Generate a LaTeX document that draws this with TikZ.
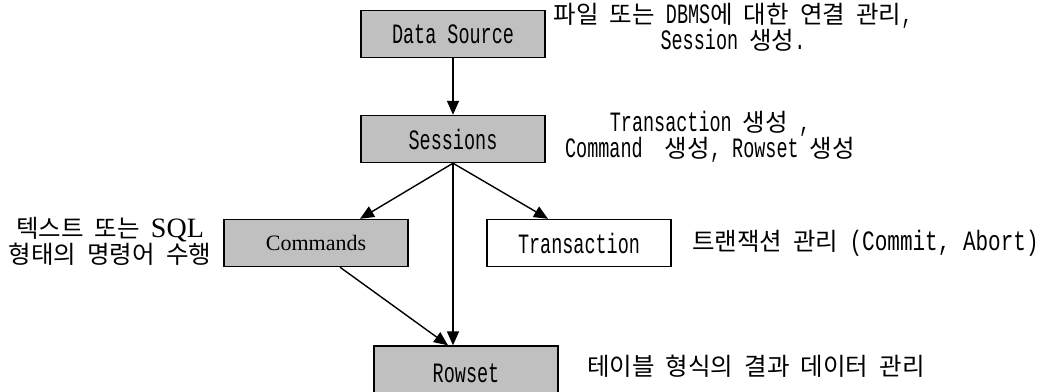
\documentclass[tikz,border=0pt]{standalone}
\usepackage{fontspec}
\setmainfont{Liberation Mono}[FakeStretch=0.66]
\newfontfamily\kr{Noto Sans CJK KR}[Scale=0.875]
\newfontfamily\tms{Liberation Serif}
\newfontfamily\widemono{Liberation Mono}[FakeStretch=0.75]
\usetikzlibrary{arrows.meta}
\newcommand\ko[1]{{\kr #1}}
\definecolor{boxgray}{RGB}{192,192,192}
\tikzset{
  box/.style={draw, line width=1.4pt, minimum width=184pt, minimum height=47pt, inner sep=0pt, fill=boxgray},
  wbox/.style={box, fill=white},
  arr/.style={line width=1.4pt, -{Triangle[length=14pt,width=12pt]}},
  lbl/.style={inner sep=0pt, align=center},
}
\begin{document}
\begin{tikzpicture}[x=1pt,y=-1pt, font=\fontsize{28}{24}\selectfont]
\useasboundingbox (0,0) rectangle (1048,391);
\clip (0,0) rectangle (1048,391);
% boxes
\node[box] (ds) at (453,34) {Data Source};
\node[box] (ses) at (453,139) {Sessions};
\node[box] (cmd) at (316,243) {\tms\fontsize{22}{24}\selectfont Commands};
\node[wbox] (tr) at (579,243) {Transaction};
\node[box, minimum height=60pt] (rs) at (466,376) {\raisebox{6pt}{Rowset}};
% labels
\node[lbl] (t1) at (733,27) {\ko{파일} \ko{또는} DBMS\ko{에} \ko{대한} \ko{연결} \ko{관리},\\Session \ko{생성}.};
\node[lbl] (t2) at (710,137) {Transaction \ko{생성} ,\\Command~~\ko{생성}, Rowset \ko{생성}};
\node[lbl] (t3) at (110,241) {\ko{텍스트} \ko{또는} {\tms SQL}\\\ko{형태의} \ko{명령어} \ko{수행}};
\node[lbl, anchor=west] (t4) at (692,243) {\ko{트랜잭션} \ko{관리} {\widemono(Commit, Abort)}};
\node[lbl, anchor=west] (t5) at (587,366) {\ko{테이블} \ko{형식의} \ko{결과} \ko{데이터} \ko{관리}};
% connectors
\draw[arr] (ds.south) -- (ses.north);
\draw[arr] (ses.south) -- ([xshift=44pt]cmd.north);
\draw[arr] (ses.south) -- ([xshift=-31pt]tr.north);
\draw[arr] (ses.south) -- (ses.south |- rs.north);
\draw[arr] ([xshift=24pt]cmd.south) -- ([xshift=-18pt]rs.north);
\end{tikzpicture}
\end{document}
